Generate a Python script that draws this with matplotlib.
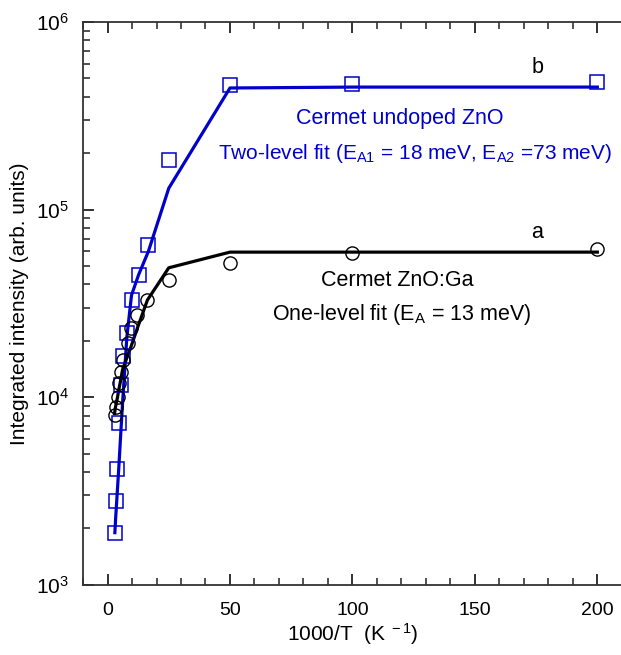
import matplotlib
matplotlib.use("Agg")
import matplotlib.pyplot as plt
from matplotlib.ticker import MultipleLocator, LogLocator, NullFormatter

plt.rcParams['font.family'] = ['Liberation Sans', 'DejaVu Sans']
plt.rcParams['mathtext.fontset'] = 'custom'
plt.rcParams['mathtext.rm'] = 'Liberation Sans'
plt.rcParams['mathtext.it'] = 'Liberation Sans:italic'

# curve b: cermet undoped ZnO (squares) and two-level fit
b_x = [3.0, 3.3, 4.0, 4.6, 5.4, 6.2, 7.9, 9.8, 12.7, 16.7, 25, 50, 100, 200]
b_y = [1.9e3, 2.8e3, 4.15e3, 7.3e3, 1.16e4, 1.66e4, 2.2e4, 3.3e4, 4.5e4, 6.5e4, 1.84e5, 4.6e5, 4.7e5, 4.8e5]
b_fit = [1.9e3, 2.25e3, 3.15e3, 4.2e3, 6.4e3, 9.6e3, 2.1e4, 3.5e4, 4.5e4, 6.0e4, 1.3e5, 4.45e5, 4.5e5, 4.5e5]

# curve a: cermet ZnO:Ga (circles) and one-level fit
a_x = [2.86, 3.27, 4.08, 4.49, 5.31, 6.12, 8.16, 9.39, 12.2, 16.3, 25, 50, 100, 200]
a_y = [8.05e3, 8.9e3, 1.0e4, 1.19e4, 1.36e4, 1.58e4, 1.95e4, 2.34e4, 2.74e4, 3.3e4, 4.2e4, 5.2e4, 5.9e4, 6.2e4]
a_fit = [8.2e3, 8.9e3, 1.0e4, 1.08e4, 1.22e4, 1.4e4, 1.66e4, 1.83e4, 2.34e4, 3.3e4, 4.9e4, 5.94e4, 5.94e4, 5.94e4]

blue = '#0000cc'

fig = plt.figure(figsize=(6.21, 6.55), dpi=100)
ax = fig.add_axes([0.1337, 0.1069, 0.8696, 0.8595])

ax.plot(b_x, b_fit, color=blue, lw=2.3, zorder=3)
ax.plot(b_x, b_y, 's', mfc='none', mec=blue, ms=9.5, mew=1.1, zorder=4)
ax.plot(a_x, a_fit, color='black', lw=2.3, zorder=3)
ax.plot(a_x, a_y, 'o', mfc='none', mec='black', ms=9.5, mew=1.0, zorder=4)

ax.set_yscale('log')
ax.set_ylim(1e3, 1e6)
ax.set_xlim(-10, 210.5)
ax.xaxis.set_major_locator(MultipleLocator(50))
ax.xaxis.set_minor_locator(MultipleLocator(10))
ax.yaxis.set_major_locator(LogLocator(base=10))
ax.yaxis.set_minor_locator(LogLocator(base=10, subs=range(2, 10)))
ax.yaxis.set_minor_formatter(NullFormatter())

ax.spines['right'].set_visible(False)
for s in ['left', 'bottom', 'top']:
    ax.spines[s].set_color('#333333')
    ax.spines[s].set_linewidth(1.3)
ax.tick_params(which='both', direction='in', top=True, right=False, color='#222222')
ax.tick_params(which='major', length=8, width=1.3)
ax.tick_params(which='minor', length=5, width=1.1)
ax.tick_params(axis='x', which='major', labelsize=14, pad=12)
ax.tick_params(axis='y', which='major', labelsize=15, pad=10)

ax.set_xlabel(r'1000/T  (K$^{\mathrm{\ -1}}$)', fontsize=15, labelpad=2)
ax.set_ylabel('Integrated intensity (arb. units)', fontsize=15)
ax.yaxis.set_label_coords(-0.1, 0.5)

ax.text(175.5, 5.7e5, 'b', fontsize=15.5, ha='center', va='center')
ax.text(77, 3.05e5, 'Cermet undoped ZnO', color=blue, fontsize=15.5, ha='left', va='center')
ax.text(45, 2.0e5, r'Two-level fit (E$_{\mathrm{A1}}$ = 18 meV, E$_{\mathrm{A2}}$ =73 meV)',
        color=blue, fontsize=15, ha='left', va='center')
ax.text(175.5, 7.6e4, 'a', fontsize=15.5, ha='center', va='center')
ax.text(87, 4.2e4, 'Cermet ZnO:Ga', fontsize=15.5, ha='left', va='center')
ax.text(67, 2.75e4, r'One-level fit (E$_{\mathrm{A}}$ = 13 meV)', fontsize=15.5, ha='left', va='center')

fig.savefig('out.png', dpi=100)
